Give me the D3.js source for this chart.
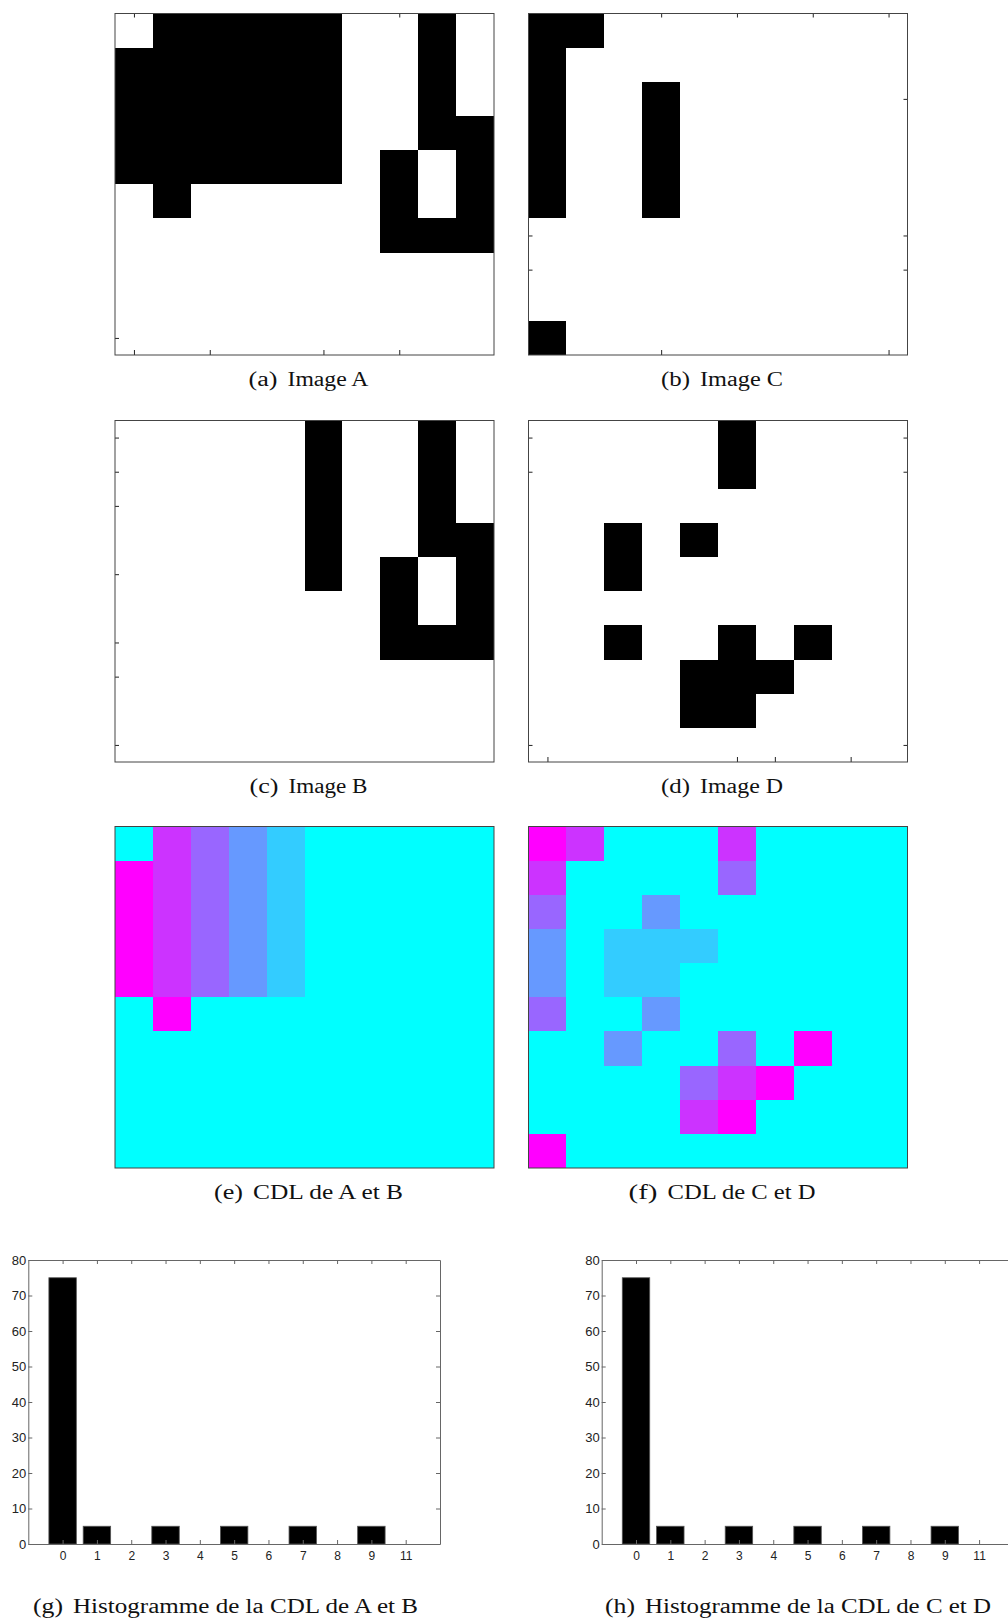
<!DOCTYPE html>
<html>
<head>
<meta charset="utf-8">
<script src="https://cdn.jsdelivr.net/npm/d3@7"></script>
<style>
  body { margin: 0; background: #fff; }
  svg { display: block; }
</style>
</head>
<body>
<div id="fig"></div>
<script>
// binary images, one string per row, "1" = black pixel
var imageA = [
  "0111110010",
  "1111110010",
  "1111110010",
  "1111110011",
  "1111110101",
  "0100000101",
  "0000000111",
  "0000000000",
  "0000000000",
  "0000000000"
];
var imageB = [
  "0000010010",
  "0000010010",
  "0000010010",
  "0000010011",
  "0000010101",
  "0000000101",
  "0000000111",
  "0000000000",
  "0000000000",
  "0000000000"
];
var imageC = [
  "1100000000",
  "1000000000",
  "1001000000",
  "1001000000",
  "1001000000",
  "1001000000",
  "0000000000",
  "0000000000",
  "0000000000",
  "1000000000"
];
var imageD = [
  "0000010000",
  "0000010000",
  "0000000000",
  "0010100000",
  "0010000000",
  "0000000000",
  "0010010100",
  "0000111000",
  "0000110000",
  "0000000000"
];
// CDL label maps, one digit per cell
var cdlAB = [
  "0753100000",
  "9753100000",
  "9753100000",
  "9753100000",
  "9753100000",
  "0900000000",
  "0000000000",
  "0000000000",
  "0000000000",
  "0000000000"
];
var cdlCD = [
  "9700070000",
  "7000050000",
  "5003000000",
  "3011100000",
  "3011000000",
  "5003000000",
  "0030050900",
  "0000579000",
  "0000790000",
  "9000000000"
];
var cdlLevels = [0, 1, 3, 5, 7, 9];

// histograms
var histBins = [0, 1, 3, 5, 7, 9];
var histAB = [75, 5, 5, 5, 5, 5];
var histCD = [75, 5, 5, 5, 5, 5];
var histXTicks = [0, 1, 2, 3, 4, 5, 6, 7, 8, 9, 10];
var histXLabels = ["0", "1", "2", "3", "4", "5", "6", "7", "8", "9", "11"];
var histYTicks = [0, 10, 20, 30, 40, 50, 60, 70, 80];

// stray tick marks left on the image frames (in cell units)
var ticksA = { bottom: [0.5, 2.5, 5.5, 7.5], top: [0.5, 7.5], left: [9.5], right: [] };
var ticksB = { bottom: [], top: [], left: [0.5, 1.5, 2.5, 4.5, 6.5, 7.5, 9.5], right: [] };
var ticksC = { bottom: [3.5, 9.5], top: [3.5, 5.5, 7.5, 9.5], left: [6.5, 7.5], right: [2.5, 6.5, 7.5] };
var ticksD = { bottom: [0.5, 5.5, 6.5, 8.5], top: [], left: [0.5, 1.5, 9.5], right: [0.5, 1.5, 9.5] };

// "cool" colormap, cyan -> magenta
var coolColors = ["#00ffff", "#33ccff", "#6699ff", "#9966ff", "#cc33ff", "#ff00ff"];
var cdlColor = d3.scaleOrdinal().domain(cdlLevels).range(coolColors);

var W = 1008, H = 1621;
var svg = d3.select("#fig").append("svg")
  .attr("width", W)
  .attr("height", H);

var frameW = 379, frameH = 341.5;
var colX = [115, 528.5];
var rowY = [13.5, 420.5, 826.5];

function cells(grid) {
  var out = [];
  grid.forEach(function (row, r) {
    row.split("").forEach(function (ch, c) {
      out.push({ r: r, c: c, v: +ch });
    });
  });
  return out;
}

// subcaption: "(x)" label then the text, widths matched to the latex look
function subcaption(xStart, yBase, label, labelW, body, bodyW) {
  [[label, xStart, labelW], [body, xStart + labelW + 10, bodyW]].forEach(function (p) {
    svg.append("text")
      .attr("x", p[1])
      .attr("y", yBase)
      .attr("font-family", "Liberation Serif, serif")
      .attr("font-size", "20px")
      .attr("fill", "#111")
      .attr("textLength", p[2])
      .attr("lengthAdjust", "spacingAndGlyphs")
      .text(p[0]);
  });
}

function drawImage(grid, x0, y0, mode, ticks, caption) {
  var g = svg.append("g").attr("transform", "translate(" + x0 + "," + y0 + ")");
  var x = d3.scaleBand().domain(d3.range(10)).range([0, frameW]);
  var y = d3.scaleBand().domain(d3.range(10)).range([0, frameH]);

  g.append("rect")
    .attr("width", frameW).attr("height", frameH)
    .attr("fill", mode == "bw" ? "#fff" : cdlColor(0));

  var data = cells(grid).filter(function (d) { return d.v > 0; });
  g.selectAll("rect.cell")
    .data(data)
    .enter()
    .append("rect")
    .attr("class", "cell")
    .attr("x", function (d) { return x(d.c); })
    .attr("y", function (d) { return y(d.r); })
    .attr("width", x.bandwidth())
    .attr("height", y.bandwidth())
    .attr("shape-rendering", "crispEdges")
    .attr("fill", function (d) { return mode == "bw" ? "#000" : cdlColor(d.v); });

  if (ticks) {
    var tx = d3.scaleLinear().domain([0, 10]).range([0, frameW]);
    var ty = d3.scaleLinear().domain([0, 10]).range([0, frameH]);
    var sides = [
      [d3.axisBottom(tx).tickValues(ticks.bottom).tickSize(-5), "translate(0," + frameH + ")"],
      [d3.axisTop(tx).tickValues(ticks.top).tickSize(-4), "translate(0,0)"],
      [d3.axisLeft(ty).tickValues(ticks.left).tickSize(-4), "translate(0,0)"],
      [d3.axisRight(ty).tickValues(ticks.right).tickSize(-4), "translate(" + frameW + ",0)"]
    ];
    sides.forEach(function (s) {
      var a = g.append("g").attr("transform", s[1])
        .call(s[0].tickFormat("").tickSizeOuter(0));
      a.select(".domain").remove();
      a.selectAll("line").attr("stroke", "#222");
    });
  }

  g.append("rect")
    .attr("width", frameW).attr("height", frameH)
    .attr("fill", "none")
    .attr("stroke", "#444")
    .attr("stroke-width", 1);

  var total = 29 + 10 + caption[2];
  subcaption(x0 + frameW / 2 + 4 - total / 2, y0 + frameH + 31, caption[0], 29, caption[1], caption[2]);
}

drawImage(imageA, colX[0], rowY[0], "bw", ticksA, ["(a)", "Image A", 81]);
drawImage(imageC, colX[1], rowY[0], "bw", ticksC, ["(b)", "Image C", 83]);
drawImage(imageB, colX[0], rowY[1], "bw", ticksB, ["(c)", "Image B", 79]);
drawImage(imageD, colX[1], rowY[1], "bw", ticksD, ["(d)", "Image D", 83]);
drawImage(cdlAB, colX[0], rowY[2], "cdl", null, ["(e)", "CDL de A et B", 150]);
drawImage(cdlCD, colX[1], rowY[2], "cdl", null, ["(f)", "CDL de C et D", 148]);

// histograms
var histTop = 1260, histH = 284, histW = 411.7;

function drawHist(values, x0, caption, capX) {
  var g = svg.append("g").attr("transform", "translate(" + x0 + "," + histTop + ")");
  var x = d3.scaleLinear().domain([-1, 11]).range([0, histW]);
  var y = d3.scaleLinear().domain([0, 80]).range([histH, 0]);

  g.append("rect").attr("width", histW).attr("height", histH).attr("fill", "#fff");

  g.selectAll("rect.bar")
    .data(histBins)
    .enter()
    .append("rect")
    .attr("class", "bar")
    .attr("x", function (d) { return x(d - 0.4); })
    .attr("y", function (d, i) { return y(values[i]); })
    .attr("width", x(0.4) - x(-0.4))
    .attr("height", function (d, i) { return histH - y(values[i]); })
    .attr("fill", "#000")
    .attr("stroke", "#555")
    .attr("stroke-width", 0.8);

  var bottom = g.append("g").attr("transform", "translate(0," + histH + ")")
    .call(d3.axisBottom(x).tickValues(histXTicks).tickSize(-4).tickSizeOuter(0).tickPadding(7)
      .tickFormat(function (d, i) { return histXLabels[i]; }));
  var top = g.append("g")
    .call(d3.axisTop(x).tickValues(histXTicks).tickSize(-4).tickSizeOuter(0).tickFormat(""));
  var left = g.append("g")
    .call(d3.axisLeft(y).tickValues(histYTicks).tickSize(-4).tickSizeOuter(0).tickPadding(2));
  var right = g.append("g").attr("transform", "translate(" + histW + ",0)")
    .call(d3.axisRight(y).tickValues(histYTicks).tickSize(-4).tickSizeOuter(0).tickFormat(""));

  [bottom, top, left, right].forEach(function (a) {
    a.select(".domain").attr("stroke", "#666");
    a.selectAll("line").attr("stroke", "#666");
    a.selectAll("text")
      .attr("font-family", "Liberation Sans, Arial, sans-serif")
      .attr("fill", "#222");
  });
  bottom.selectAll("text").attr("font-size", "12px");
  left.selectAll("text").attr("font-size", "13px");

  subcaption(capX, 1613, caption[0], 30, caption[1], caption[2]);
}

drawHist(histAB, 28.3, ["(g)", "Histogramme de la CDL de A et B", 345], 33);
drawHist(histCD, 601.7, ["(h)", "Histogramme de la CDL de C et D", 346], 605);
</script>
</body>
</html>
